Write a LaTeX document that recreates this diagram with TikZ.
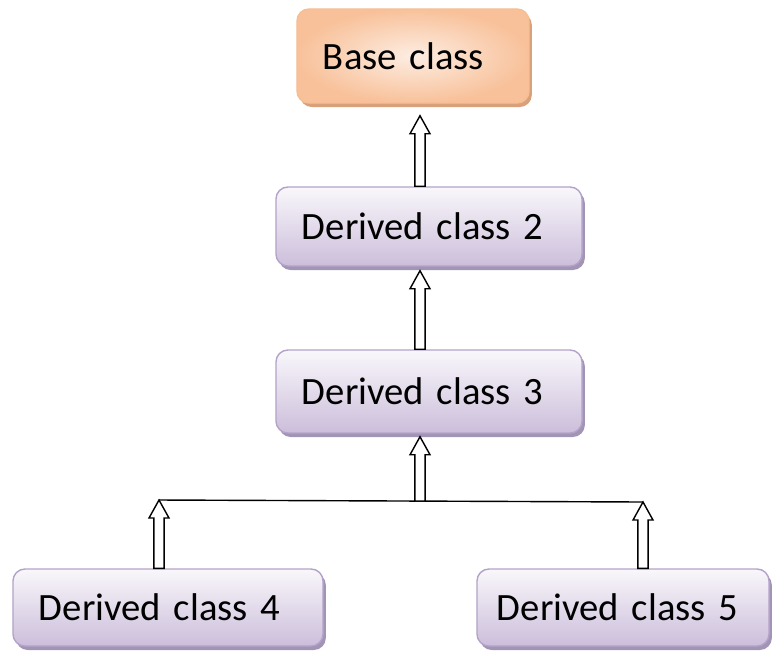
\documentclass[tikz,border=0pt]{standalone}
\usepackage{fontspec}
\setmainfont{Carlito}
\usetikzlibrary{positioning}
\usetikzlibrary{calc}
\usetikzlibrary{shadows}

\definecolor{boxedge}{HTML}{B3A3C8}
\definecolor{boxtop}{HTML}{F9F7FB}
\definecolor{boxbottom}{HTML}{CCBEDB}
\definecolor{boxshadow}{HTML}{A294B5}
\definecolor{baseedge}{HTML}{F6BE94}
\definecolor{baseinner}{HTML}{FDEDE2}
\definecolor{baseouter}{HTML}{F8C19A}
\definecolor{baseshadow}{HTML}{D8A17B}

\tikzset{
  boxtext/.style={align=left, inner xsep=0.65cm, inner ysep=0pt, rounded corners=0.3cm,
    line width=1pt, font=\fontsize{27.5}{33}\selectfont},
  classbox/.style={boxtext, draw=boxedge, top color=boxtop, bottom color=boxbottom,
    drop shadow={shadow xshift=0.07cm, shadow yshift=-0.1cm, fill=boxshadow, opacity=1}},
  basebox/.style={boxtext, draw=baseedge, inner color=baseinner, outer color=baseouter,
    drop shadow={shadow xshift=0.07cm, shadow yshift=-0.1cm, fill=baseshadow, opacity=1}},
  hollow/.style={draw=black, fill=white, line width=1pt, line join=miter},
}

% hollow block arrow from #1 (foot) up to #2 (tip)
\newcommand{\hollowarrow}[2]{%
  \draw[hollow] let \p1=(#1), \p2=(#2) in
    (\x1-3.6pt,\y1) -- (\x1-3.6pt,\y2-12.8pt) -- (\x1-7.1pt,\y2-12.8pt) -- (\x1,\y2)
    -- (\x1+7.1pt,\y2-12.8pt) -- (\x1+3.6pt,\y2-12.8pt) -- (\x1+3.6pt,\y1) -- cycle;
}

\begin{document}
\begin{tikzpicture}[x=0.025cm,y=-0.025cm]
  \useasboundingbox (0,0) rectangle (774,652);

  \node[basebox, text width=4.5cm, minimum height=2.35cm] (base) at (413,56) {Base class};
  \node[classbox, text width=6.35cm, minimum height=1.975cm] (dc2) at (429,226.5) {Derived class 2};
  \node[classbox, text width=6.35cm, minimum height=2.075cm] (dc3) at (429,391.5) {Derived class 3};
  \node[classbox, text width=6.45cm, minimum height=1.925cm] (dc4) at (168,607.5) {Derived class 4};
  \node[classbox, text width=6.3cm, inner xsep=0.5cm, minimum height=1.925cm] (dc5) at (623,607.5) {Derived class 5};

  % joint line under derived class 3
  \coordinate (ax) at (420,0);
  \coordinate (jl) at (159,500);
  \coordinate (jm) at (420,501);
  \coordinate (jr) at (643,502);
  \draw[line width=1pt] (jl) -- (jr);

  \hollowarrow{dc2.north -| ax}{$(base.south -| ax)+(0,12)$}
  \hollowarrow{dc3.north -| ax}{$(dc2.south -| ax)+(0,4)$}
  \hollowarrow{jm}{$(dc3.south -| ax)+(0,3)$}
  \hollowarrow{dc4.north -| jl}{jl}
  \hollowarrow{dc5.north -| jr}{jr}
\end{tikzpicture}
\end{document}
